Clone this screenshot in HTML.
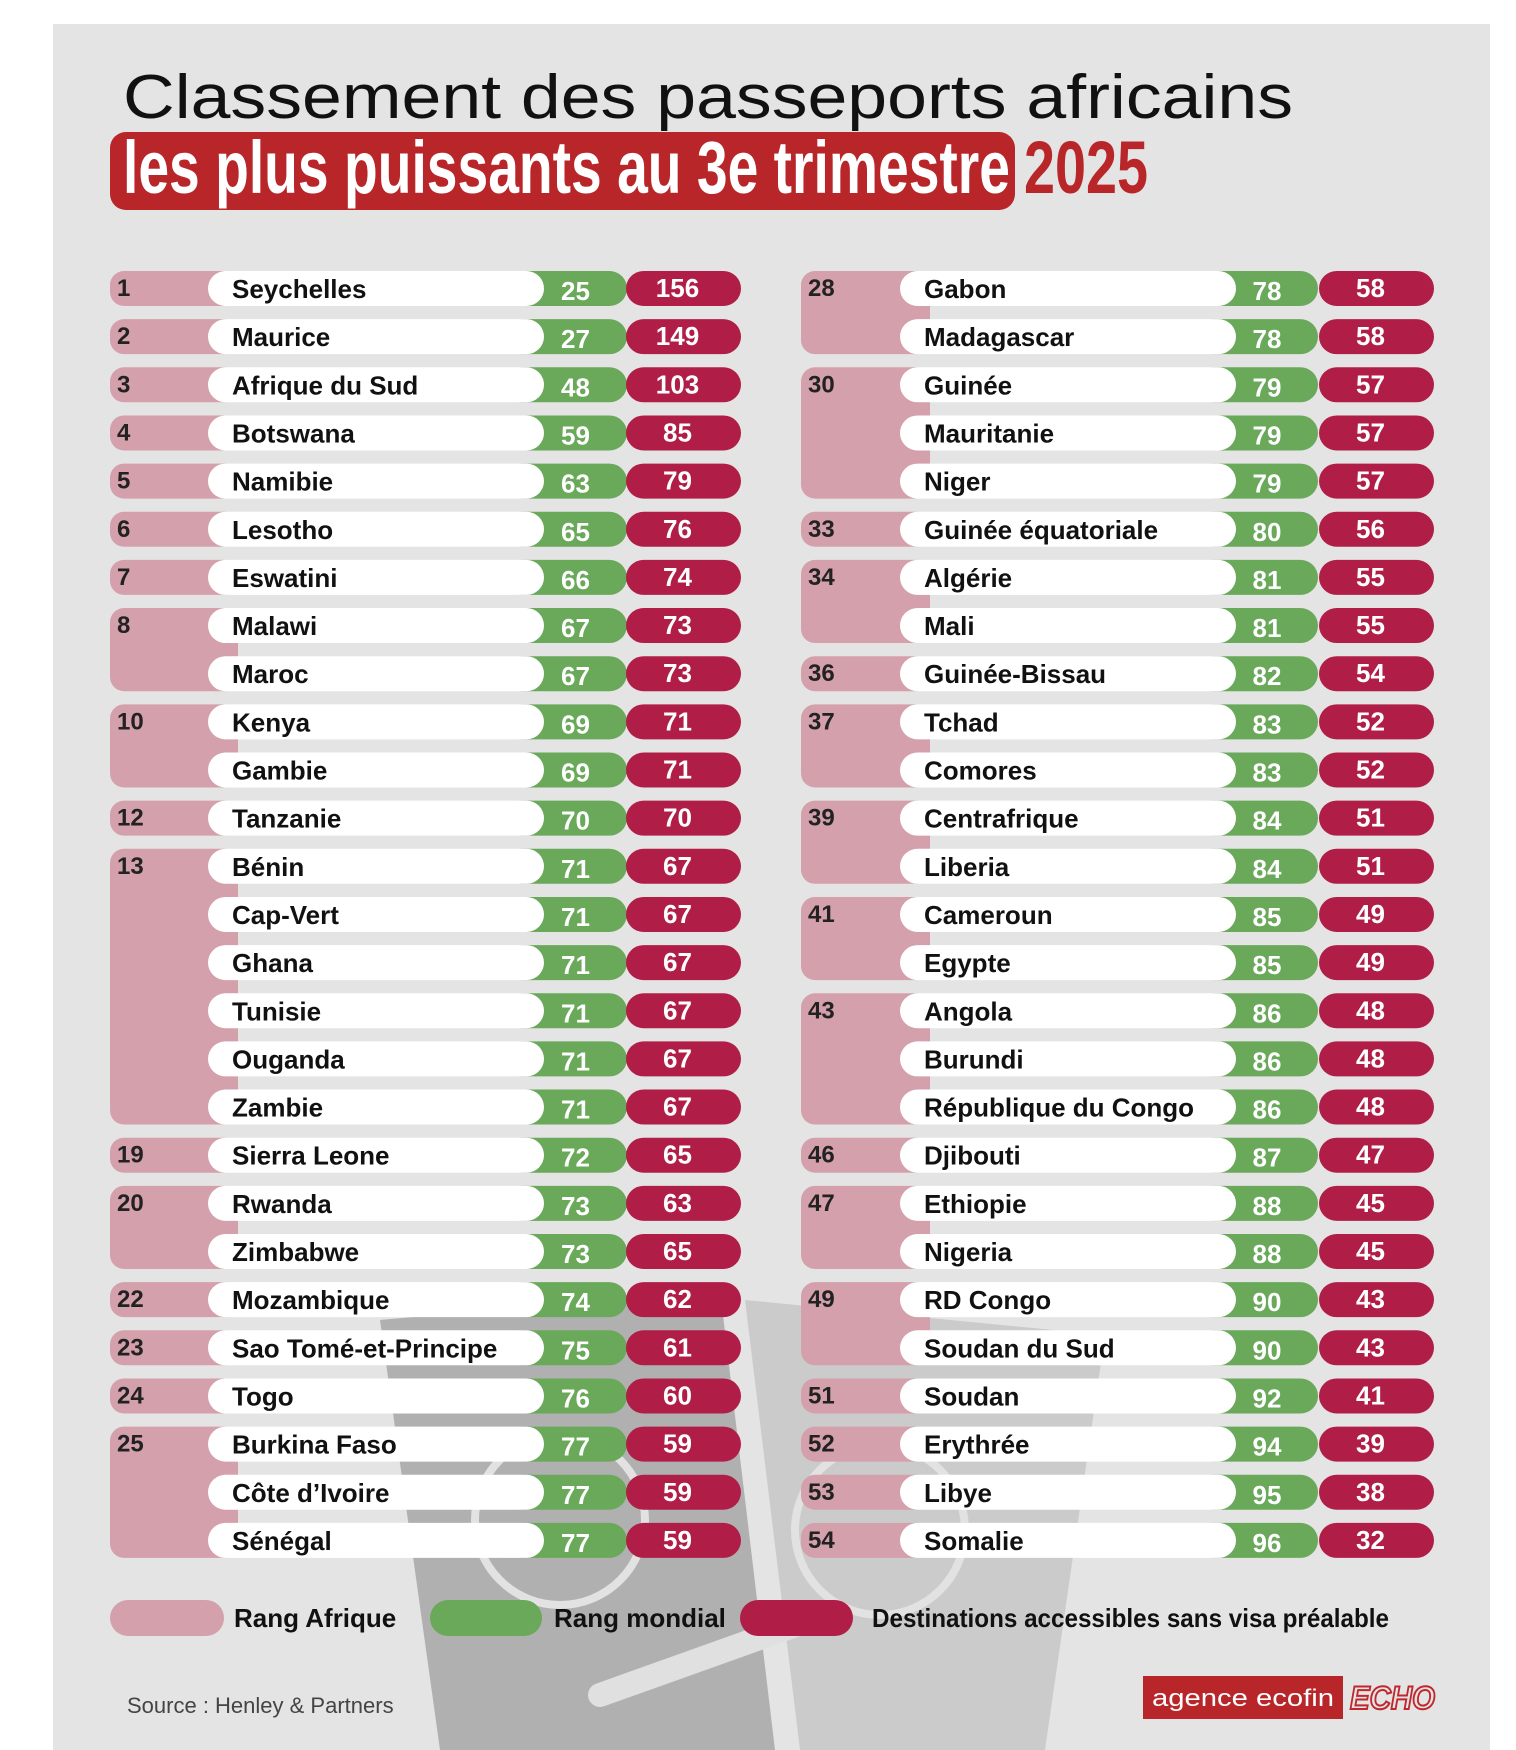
<!DOCTYPE html>
<html><head><meta charset="utf-8"><style>
html,body{margin:0;padding:0;background:#fff}
svg{display:block}
.nm{font-family:"Liberation Sans",sans-serif;font-weight:bold;font-size:26px;fill:#111}
.rk{font-family:"Liberation Sans",sans-serif;font-weight:bold;font-size:24px;fill:#222}
.num{font-family:"Liberation Sans",sans-serif;font-weight:bold;font-size:26px;fill:#fff}
</style></head><body>
<svg id="s" width="1516" height="1750" viewBox="0 0 1516 1750" xmlns="http://www.w3.org/2000/svg">
<rect x="53" y="24" width="1437" height="1726" fill="#e4e4e4"/>
<polygon points="380,1320 720,1290 775,1750 440,1750" fill="#b0b0b0"/>
<polygon points="745,1300 1105,1335 1045,1750 800,1750" fill="#cbcbcb"/>
<line x1="600" y1="1695" x2="810" y2="1620" stroke="#e0e0e0" stroke-width="24" stroke-linecap="round"/>
<circle cx="560" cy="1520" r="85" fill="none" stroke="#e2e2e2" stroke-width="8"/>
<circle cx="880" cy="1530" r="85" fill="none" stroke="#e2e2e2" stroke-width="8"/>
<text x="123" y="118" font-family="Liberation Sans,sans-serif" font-size="62" fill="#111" textLength="1170" lengthAdjust="spacingAndGlyphs">Classement des passeports africains</text>
<rect x="110" y="132" width="905" height="78" rx="16" fill="#b8262a"/>
<text x="123" y="193" font-family="Liberation Sans,sans-serif" font-weight="bold" font-size="74" fill="#fff" textLength="887" lengthAdjust="spacingAndGlyphs">les plus puissants au 3e trimestre</text>
<text x="1024" y="193" font-family="Liberation Sans,sans-serif" font-weight="bold" font-size="74" fill="#b8262a" textLength="124" lengthAdjust="spacingAndGlyphs">2025</text>
<g id="rows"></g>
<rect x="110" y="1600" width="114" height="36" rx="18" fill="#d4a0ac"/>
<text x="234" y="1627" class="nm" font-size="24">Rang Afrique</text>
<rect x="430" y="1600" width="112" height="36" rx="18" fill="#6aa85a"/>
<text x="554" y="1627" class="nm" font-size="24">Rang mondial</text>
<rect x="740" y="1600" width="113" height="36" rx="18" fill="#b01e48"/>
<text x="872" y="1627" class="nm" font-size="24" textLength="517" lengthAdjust="spacingAndGlyphs">Destinations accessibles sans visa préalable</text>
<text x="127" y="1713" font-family="Liberation Sans,sans-serif" font-size="22" fill="#444">Source : Henley &amp; Partners</text>
<rect x="1143" y="1676" width="200" height="43" fill="#b8262a"/>
<text x="1152" y="1706" font-family="Liberation Sans,sans-serif" font-size="24" fill="#fff" textLength="182" lengthAdjust="spacingAndGlyphs">agence ecofin</text>
<text x="1350" y="1709" font-family="Liberation Sans,sans-serif" font-weight="bold" font-style="italic" font-size="32" fill="none" stroke="#c0282d" stroke-width="2" textLength="85" lengthAdjust="spacingAndGlyphs">ECHO</text>
</svg>
<script>
var L=[["1","Seychelles",25,156],["2","Maurice",27,149],["3","Afrique du Sud",48,103],["4","Botswana",59,85],["5","Namibie",63,79],["6","Lesotho",65,76],["7","Eswatini",66,74],["8","Malawi",67,73,2],["","Maroc",67,73],["10","Kenya",69,71,2],["","Gambie",69,71],["12","Tanzanie",70,70],["13","Bénin",71,67,6],["","Cap-Vert",71,67],["","Ghana",71,67],["","Tunisie",71,67],["","Ouganda",71,67],["","Zambie",71,67],["19","Sierra Leone",72,65],["20","Rwanda",73,63,2],["","Zimbabwe",73,65],["22","Mozambique",74,62],["23","Sao Tomé-et-Principe",75,61],["24","Togo",76,60],["25","Burkina Faso",77,59,3],["","Côte d’Ivoire",77,59],["","Sénégal",77,59]];
var R=[["28","Gabon",78,58,2],["","Madagascar",78,58],["30","Guinée",79,57,3],["","Mauritanie",79,57],["","Niger",79,57],["33","Guinée équatoriale",80,56],["34","Algérie",81,55,2],["","Mali",81,55],["36","Guinée-Bissau",82,54],["37","Tchad",83,52,2],["","Comores",83,52],["39","Centrafrique",84,51,2],["","Liberia",84,51],["41","Cameroun",85,49,2],["","Egypte",85,49],["43","Angola",86,48,3],["","Burundi",86,48],["","République du Congo",86,48],["46","Djibouti",87,47],["47","Ethiopie",88,45,2],["","Nigeria",88,45],["49","RD Congo",90,43,2],["","Soudan du Sud",90,43],["51","Soudan",92,41],["52","Erythrée",94,39],["53","Libye",95,38],["54","Somalie",96,32]];
var h="";
function col(D,o){
 var pk=o.pk,wl=o.wl,wr=o.wr,gr=o.gr,rl=o.rl,rr=o.rr;
 for(var i=0;i<D.length;i++){
  var d=D[i],y=271+48.15*i,H=35;
  if(d[0]!==""){var n=d[4]||1,hh=48.15*(n-1)+H;
   h+='<rect x="'+pk+'" y="'+y+'" width="'+(wl+30-pk)+'" height="'+hh+'" rx="14" fill="#d4a0ac"/>';
   h+='<text class="rk" x="'+(pk+7)+'" y="'+(y+25)+'">'+d[0]+'</text>';}
  h+='<rect x="'+(wr-40)+'" y="'+y+'" width="'+(gr-wr+40)+'" height="'+H+'" rx="17.5" fill="#6aa85a"/>';
  h+='<rect x="'+rl+'" y="'+y+'" width="'+(rr-rl)+'" height="'+H+'" rx="17.5" fill="#b01e48"/>';
  h+='<rect x="'+wl+'" y="'+y+'" width="'+(wr-wl)+'" height="'+H+'" rx="17.5" fill="#fff"/>';
  h+='<text class="nm" x="'+(wl+24)+'" y="'+(y+27)+'">'+d[1]+'</text>';
  h+='<text class="num" text-anchor="middle" x="'+((wr+gr)/2-10)+'" y="'+(y+29)+'">'+d[2]+'</text>';
  h+='<text class="num" text-anchor="middle" x="'+((rl+rr)/2-6)+'" y="'+(y+26)+'">'+d[3]+'</text>';
 }
}
col(L,{pk:110,wl:208,wr:544,gr:627,rl:626,rr:741});
col(R,{pk:801,wl:900,wr:1236,gr:1318,rl:1319,rr:1434});
document.getElementById("rows").innerHTML=h;
</script>
</body></html>
